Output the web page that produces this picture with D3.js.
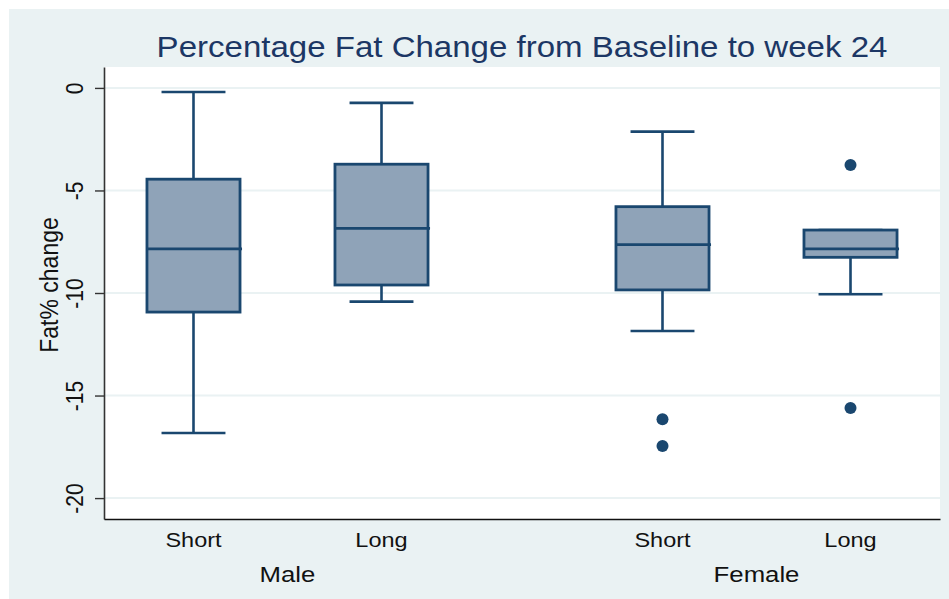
<!DOCTYPE html>
<html>
<head>
<meta charset="utf-8">
<script src="https://cdn.jsdelivr.net/npm/d3@7"></script>
<style>
  html, body { margin: 0; padding: 0; background: #ffffff; }
  text { font-family: "Liberation Sans", Arial, sans-serif; }
</style>
</head>
<body>
<svg id="chart" width="949" height="599"></svg>
<script>
// ---- data ----
const groups = ["Male", "Female"];
const durations = ["Short", "Long"];
const boxGroup   = ["Male", "Male", "Female", "Female"];
const boxDur     = ["Short", "Long", "Short", "Long"];
const whiskerHi  = [-0.2, -0.73, -2.13, -6.93];
const q3         = [-4.45, -3.72, -5.79, -6.93];
const median     = [-7.85, -6.85, -7.64, -7.85];
const q1         = [-10.93, -9.61, -9.85, -8.26];
const whiskerLo  = [-16.83, -10.42, -11.85, -10.06];
const outliers   = [[], [], [-16.16, -17.46], [-3.76, -15.61]];
const yTicks     = [0, -5, -10, -15, -20];
const titleText  = "Percentage Fat Change from Baseline to week 24";
const yTitle     = "Fat% change";

// ---- layout ----
const W = 949, H = 599;
const plot = { left: 104, right: 940, top: 67, bottom: 519 };
const stretch = 1.12;
const navy = "#1a476f";
const fill = "#8fa3b8";
const bg = "#eaf2f3";
const sw = 2.6;

const svg = d3.select("#chart");
svg.append("rect").attr("x", 0).attr("y", 0).attr("width", W).attr("height", H).attr("fill", "#ffffff");
svg.append("rect").attr("x", 9).attr("y", 9).attr("width", W - 9).attr("height", H - 9).attr("fill", bg);
svg.append("rect").attr("x", plot.left).attr("y", plot.top)
  .attr("width", plot.right - plot.left).attr("height", plot.bottom - plot.top).attr("fill", "#ffffff");

const y = d3.scaleLinear().domain([-21.02, 1.02]).range([plot.bottom, plot.top]);
const xGroup = d3.scaleBand().domain(groups).range([plot.left, plot.right])
  .paddingInner(0.2175).paddingOuter(0);
const xInner = d3.scalePoint().domain(durations).range([0, xGroup.bandwidth()]).padding(0.476);
const innerStep = xInner.step();
const boxW = innerStep * 0.495;
const capW = innerStep * 0.34;
const cx = i => xGroup(boxGroup[i]) + xInner(boxDur[i]);

// grid
svg.append("g").selectAll("line").data(yTicks).join("line")
  .attr("x1", plot.left).attr("x2", plot.right)
  .attr("y1", d => y(d)).attr("y2", d => y(d))
  .attr("stroke", bg).attr("stroke-width", 2);

// boxes
const boxes = svg.append("g").selectAll("g").data(d3.range(boxGroup.length)).join("g");
boxes.append("line")
  .attr("x1", cx).attr("x2", cx)
  .attr("y1", i => y(whiskerHi[i])).attr("y2", i => y(q3[i]))
  .attr("stroke", navy).attr("stroke-width", sw);
boxes.append("line")
  .attr("x1", cx).attr("x2", cx)
  .attr("y1", i => y(q1[i])).attr("y2", i => y(whiskerLo[i]))
  .attr("stroke", navy).attr("stroke-width", sw);
boxes.append("line")
  .attr("x1", i => cx(i) - capW / 2).attr("x2", i => cx(i) + capW / 2)
  .attr("y1", i => y(whiskerHi[i])).attr("y2", i => y(whiskerHi[i]))
  .attr("stroke", navy).attr("stroke-width", sw);
boxes.append("line")
  .attr("x1", i => cx(i) - capW / 2).attr("x2", i => cx(i) + capW / 2)
  .attr("y1", i => y(whiskerLo[i])).attr("y2", i => y(whiskerLo[i]))
  .attr("stroke", navy).attr("stroke-width", sw);
boxes.append("rect")
  .attr("x", i => cx(i) - boxW / 2).attr("width", boxW)
  .attr("y", i => y(q3[i])).attr("height", i => y(q1[i]) - y(q3[i]))
  .attr("fill", fill).attr("stroke", navy).attr("stroke-width", 2.8);
boxes.append("line")
  .attr("x1", i => cx(i) - boxW / 2).attr("x2", i => cx(i) + boxW / 2 + 2)
  .attr("y1", i => y(median[i])).attr("y2", i => y(median[i]))
  .attr("stroke", navy).attr("stroke-width", sw);
boxes.each(function(i) {
  d3.select(this).selectAll("circle").data(outliers[i]).join("circle")
    .attr("cx", cx(i)).attr("cy", d => y(d)).attr("r", 6).attr("fill", navy);
});

// y axis
const yAxis = svg.append("g").attr("transform", `translate(${plot.left},0)`)
  .call(d3.axisLeft(y).tickValues(yTicks).tickSize(9).tickSizeOuter(0).tickFormat(d => String(d)));
yAxis.select(".domain").attr("stroke", "#333").attr("stroke-width", 1.6);
yAxis.selectAll(".tick line").attr("stroke", "#333").attr("stroke-width", 1.4);
yAxis.selectAll(".tick text")
  .attr("x", 0).attr("dy", 0)
  .attr("text-anchor", "middle")
  .attr("font-size", 21)
  .attr("font-family", "Liberation Sans, Arial, sans-serif")
  .attr("fill", "#111")
  .attr("transform", `translate(-21,0) scale(${stretch},1) rotate(-90)`);

// x axis line
const xAxis = svg.append("g").attr("transform", `translate(0,${plot.bottom})`)
  .call(d3.axisBottom(xGroup).tickSize(0).tickFormat(""));
xAxis.select(".domain").attr("stroke", "#111").attr("stroke-width", 1.6);

// category labels
svg.append("g").selectAll("text").data(d3.range(boxGroup.length)).join("text")
  .attr("transform", i => `translate(${cx(i)},547) scale(${stretch},1)`)
  .attr("text-anchor", "middle").attr("font-size", 21).attr("fill", "#111")
  .text(i => boxDur[i]);
svg.append("g").selectAll("text").data(groups).join("text")
  .attr("transform", g => `translate(${xGroup(g) + xGroup.bandwidth() / 2},582) scale(${stretch},1)`)
  .attr("text-anchor", "middle").attr("font-size", 23).attr("fill", "#111")
  .text(g => g);

// y title
svg.append("text")
  .attr("transform", `translate(58,285) scale(${stretch},1) rotate(-90)`)
  .attr("text-anchor", "middle").attr("font-size", 23).attr("fill", "#111")
  .text(yTitle);

// title
svg.append("text")
  .attr("transform", `translate(${(plot.left + plot.right) / 2},57) scale(${stretch},1)`)
  .attr("text-anchor", "middle").attr("font-size", 29.5).attr("fill", "#1c3765")
  .text(titleText);
</script>
</body>
</html>
